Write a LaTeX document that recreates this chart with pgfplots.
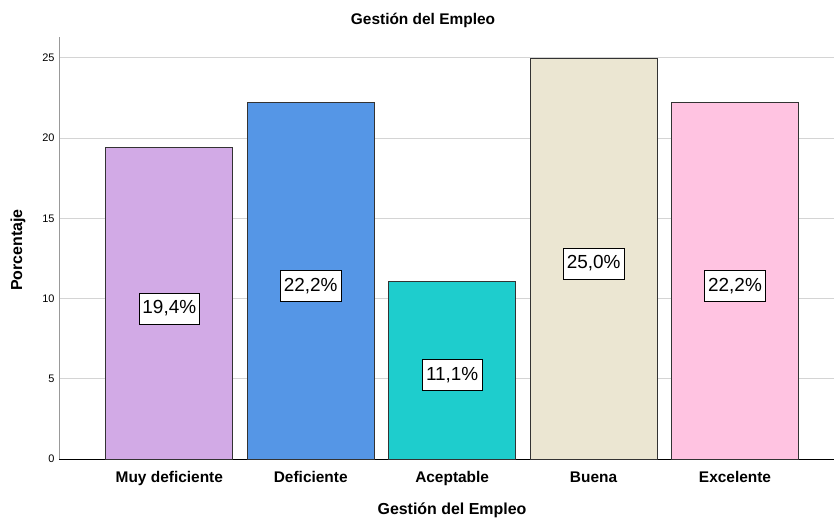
\documentclass[border=0pt]{standalone}
\usepackage{fontspec}
\setmainfont{Liberation Sans}
\usepackage{pgfplots}
\pgfplotsset{compat=1.18}
\definecolor{c1}{HTML}{D2AAE6}
\definecolor{c2}{HTML}{5596E6}
\definecolor{c3}{HTML}{1ECDCD}
\definecolor{c4}{HTML}{EBE6D2}
\definecolor{c5}{HTML}{FFC3E1}
\definecolor{gridc}{HTML}{D4D4D4}
\begin{document}
\begin{tikzpicture}
\useasboundingbox (-59bp,-59bp) rectangle (775bp,459bp);
\begin{axis}[
  scale only axis,
  width=775bp, height=422bp,
  at={(0,0)}, anchor=south west,
  xmin=-0.78, xmax=4.70,
  ymin=0, ymax=26.3,
  axis lines=left,
  axis line style={-},
  x axis line style={black, line width=0.9pt},
  y axis line style={gray!80, line width=0.8pt},
  ytick={0,5,10,15,20,25},
  xtick={0,1,2,3,4},
  xticklabels={Muy deficiente,Deficiente,Aceptable,Buena,Excelente},
  major tick length=0pt,
  ymajorgrids, grid style={gridc, line width=0.8pt},
  /pgf/number format/assume math mode=true,
  yticklabel style={font=\fontsize{11}{13}\selectfont, xshift=-1bp},
  xticklabel style={font=\bfseries\fontsize{15.5}{18}\selectfont, yshift=-9bp},
  ybar, bar width=0.8975, bar shift=0pt,
  point meta=explicit symbolic,
  nodes near coords,
  visualization depends on={y \as \rawy},
  every node near coord/.append style={anchor=center, shift={(axis direction cs:0,-\rawy/2)}, yshift=-5bp, fill=white, draw=black, line width=0.5pt, inner xsep=3.5bp, inner ysep=0bp, minimum height=31bp, font=\fontsize{19}{21}\selectfont, text=black},
  clip=false,
]
\addplot[fill=c1, draw=black!80, line width=0.7pt] coordinates {(0,19.4) [19,4\%]};
\addplot[fill=c2, draw=black!80, line width=0.7pt] coordinates {(1,22.2) [22,2\%]};
\addplot[fill=c3, draw=black!80, line width=0.7pt] coordinates {(2,11.1) [11,1\%]};
\addplot[fill=c4, draw=black!80, line width=0.7pt] coordinates {(3,25.0) [25,0\%]};
\addplot[fill=c5, draw=black!80, line width=0.7pt] coordinates {(4,22.2) [22,2\%]};
\end{axis}
\node[font=\bfseries\fontsize{15.5}{18}\selectfont] at (364bp,439bp) {Gestión del Empleo};
\node[font=\bfseries\fontsize{16}{18}\selectfont] at (393bp,-51bp) {Gestión del Empleo};
\node[font=\bfseries\fontsize{16}{18}\selectfont, rotate=90] at (-41bp,209bp) {Porcentaje};
\end{tikzpicture}
\end{document}
